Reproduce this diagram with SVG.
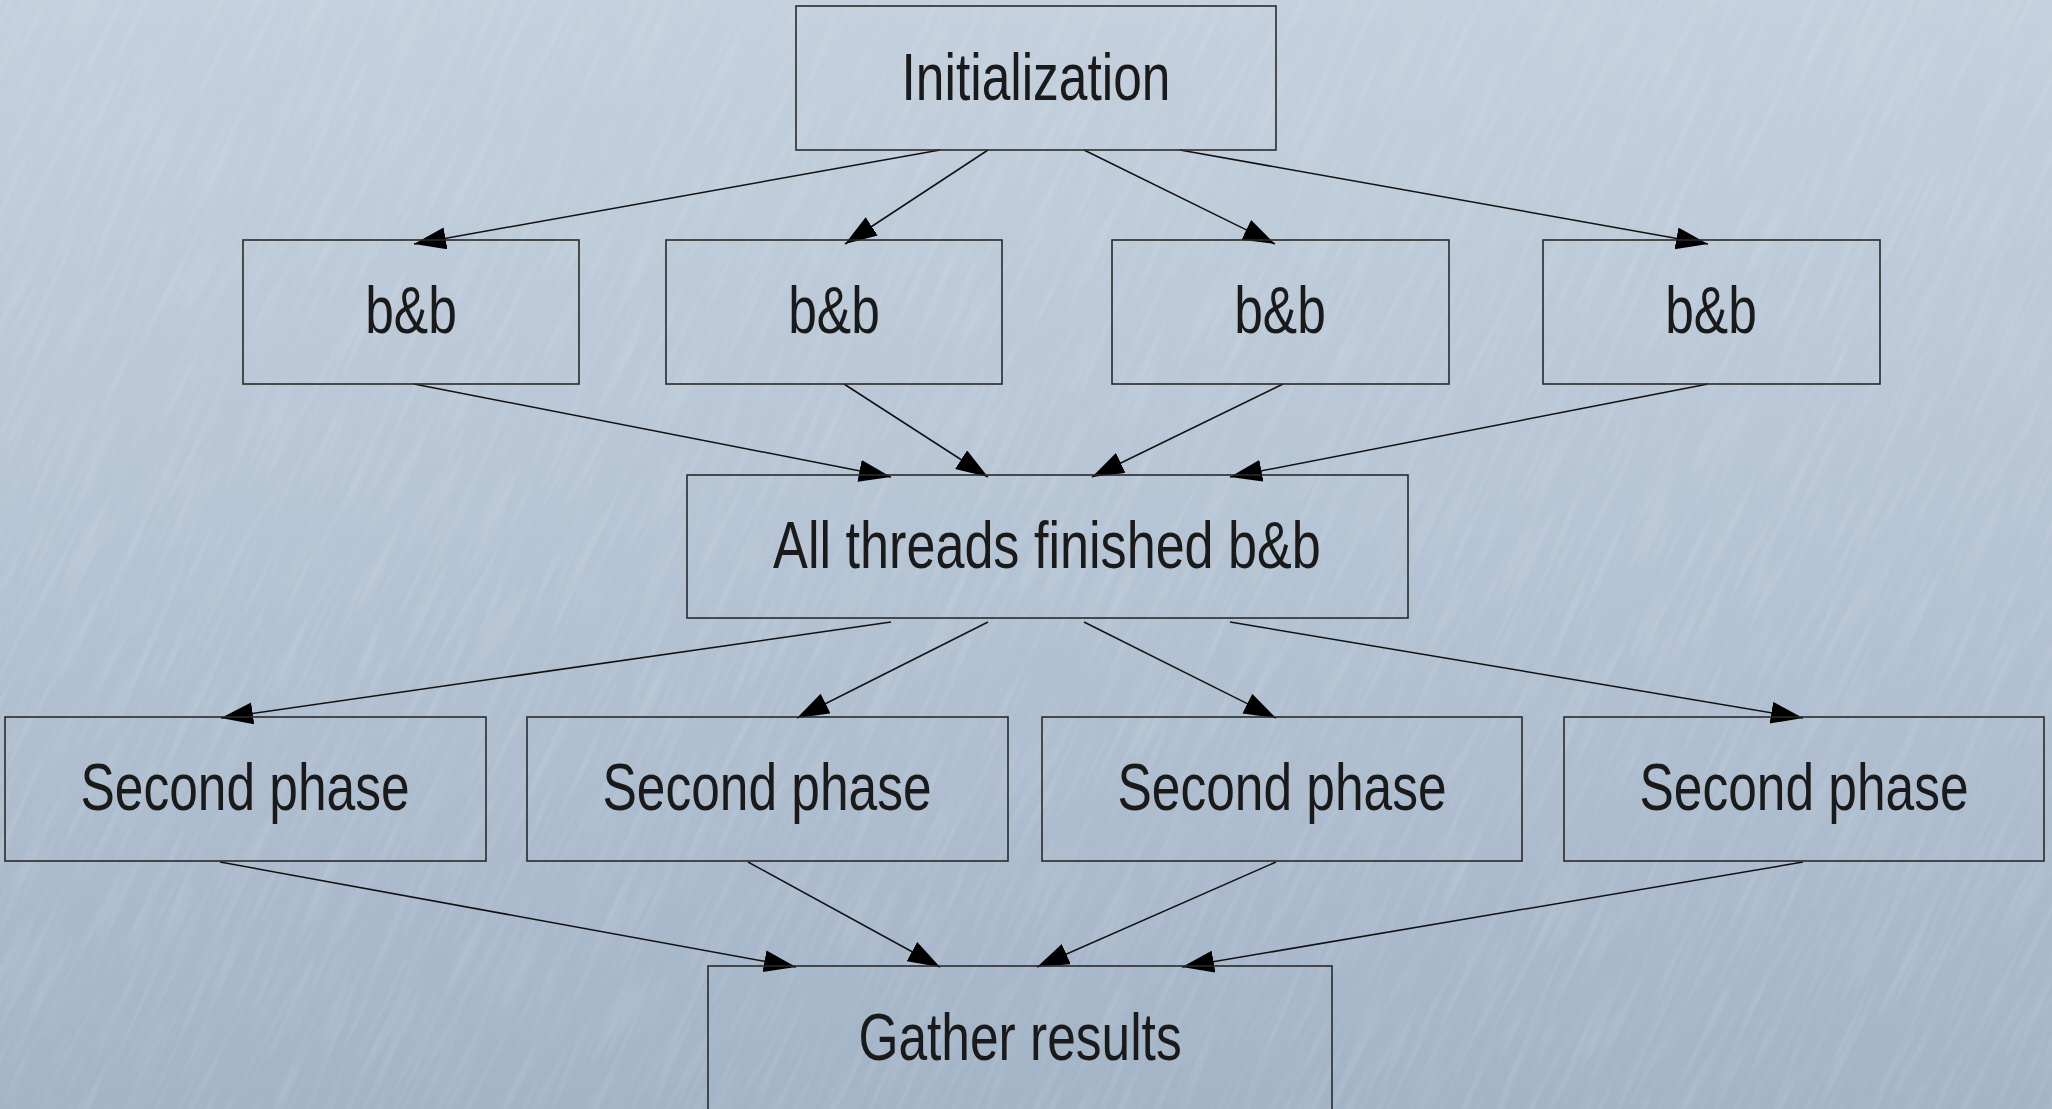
<svg xmlns="http://www.w3.org/2000/svg" width="2052" height="1109" viewBox="0 0 2052 1109">
<style>
.box{fill:none;stroke:#2a2a2a;stroke-width:1.6}
.lbl{font-family:"Liberation Sans",Arial,sans-serif;font-size:66px;fill:#1a1a1a;text-anchor:middle}
.edge{stroke:#111;stroke-width:1.5;fill:none;marker-end:url(#arr)}
</style>
<defs>
<linearGradient id="bg" x1="0" y1="0" x2="0" y2="1">
<stop offset="0" stop-color="#c4d0dd"/>
<stop offset="0.5" stop-color="#b5c4d4"/>
<stop offset="1" stop-color="#a3b4c7"/>
</linearGradient>
<filter id="streak" x="0" y="0" width="100%" height="100%">
<feTurbulence type="fractalNoise" baseFrequency="0.12 0.01" numOctaves="2" seed="5"/>
<feColorMatrix type="matrix" values="0 0 0 0 1  0 0 0 0 1  0 0 0 0 1  0 0 0 1.0 -0.45"/>
</filter>
<marker id="arr" markerUnits="userSpaceOnUse" markerWidth="34" markerHeight="24" refX="32" refY="11" orient="auto">
<path d="M0,0 L32,11 L0,22 z" fill="#000"/>
</marker>
</defs>
<rect width="2052" height="1109" fill="url(#bg)"/>
<g opacity="0.28">
<rect x="-600" y="-600" width="3300" height="2400" filter="url(#streak)" transform="rotate(25 1026 554)"/>
</g>
<g id="connectors">
<line class="edge" x1="940" y1="150" x2="414" y2="244"/>
<line class="edge" x1="988" y1="150" x2="845" y2="244"/>
<line class="edge" x1="1084" y1="150" x2="1275" y2="244"/>
<line class="edge" x1="1180" y1="150" x2="1708" y2="244"/>
<line class="edge" x1="414" y1="384" x2="891" y2="477"/>
<line class="edge" x1="844" y1="384" x2="988" y2="477"/>
<line class="edge" x1="1283" y1="384" x2="1092" y2="477"/>
<line class="edge" x1="1708" y1="384" x2="1230" y2="477"/>
<line class="edge" x1="891" y1="622" x2="221" y2="718"/>
<line class="edge" x1="988" y1="622" x2="797" y2="718"/>
<line class="edge" x1="1084" y1="622" x2="1276" y2="718"/>
<line class="edge" x1="1230" y1="622" x2="1803" y2="718"/>
<line class="edge" x1="220" y1="862" x2="796" y2="967"/>
<line class="edge" x1="748" y1="862" x2="940" y2="967"/>
<line class="edge" x1="1276" y1="862" x2="1037" y2="967"/>
<line class="edge" x1="1803" y1="862" x2="1182" y2="967"/>
</g>
<g id="init"><rect class="box" x="796" y="6" width="480" height="144"/><text class="lbl" transform="translate(1036 100) scale(0.78 1)">Initialization</text></g>
<g id="bb1"><rect class="box" x="243" y="240" width="336" height="144"/><text class="lbl" transform="translate(411 333) scale(0.78 1)">b&amp;b</text></g>
<g id="bb2"><rect class="box" x="666" y="240" width="336" height="144"/><text class="lbl" transform="translate(834 333) scale(0.78 1)">b&amp;b</text></g>
<g id="bb3"><rect class="box" x="1112" y="240" width="337" height="144"/><text class="lbl" transform="translate(1280 333) scale(0.78 1)">b&amp;b</text></g>
<g id="bb4"><rect class="box" x="1543" y="240" width="337" height="144"/><text class="lbl" transform="translate(1711 333) scale(0.78 1)">b&amp;b</text></g>
<g id="all"><rect class="box" x="687" y="475" width="721" height="143"/><text class="lbl" transform="translate(1047 568) scale(0.79 1)">All threads finished b&amp;b</text></g>
<g id="sp1"><rect class="box" x="5" y="717" width="481" height="144"/><text class="lbl" transform="translate(245 810) scale(0.78 1)">Second phase</text></g>
<g id="sp2"><rect class="box" x="527" y="717" width="481" height="144"/><text class="lbl" transform="translate(767 810) scale(0.78 1)">Second phase</text></g>
<g id="sp3"><rect class="box" x="1042" y="717" width="480" height="144"/><text class="lbl" transform="translate(1282 810) scale(0.78 1)">Second phase</text></g>
<g id="sp4"><rect class="box" x="1564" y="717" width="480" height="144"/><text class="lbl" transform="translate(1804 810) scale(0.78 1)">Second phase</text></g>
<g id="gather"><rect class="box" x="708" y="966" width="624" height="146"/><text class="lbl" transform="translate(1020 1060) scale(0.78 1)">Gather results</text></g>
</svg>
